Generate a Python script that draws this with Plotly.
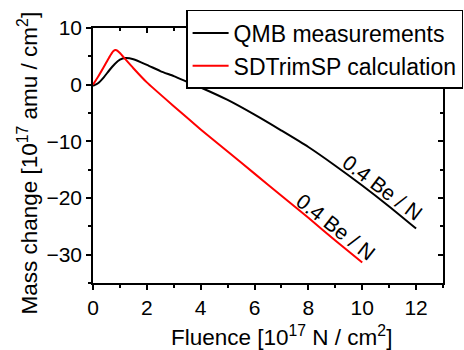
import plotly.graph_objects as go

# QMB measurements (black)
qmb_x = [0, 0.2, 0.4, 0.6, 0.8, 1.0, 1.2, 1.5, 2.0, 2.5, 3.0, 3.5, 4, 5, 6, 7, 8, 9, 10, 11, 12]
qmb_y = [-0.2, 0.3, 1.3, 2.5, 3.6, 4.4, 4.7, 4.5, 3.5, 2.4, 1.5, 0.5, -0.5, -2.7, -5.3, -8.1, -11.0, -14.3, -17.8, -21.5, -25.4]

# SDTrimSP calculation (red)
sdt_x = [0, 0.2, 0.4, 0.6, 0.75, 0.85, 1.0, 1.2, 1.5, 2.0, 3, 4, 5, 6, 7, 8, 9, 10]
sdt_y = [0, 1.5, 3.1, 4.8, 5.9, 6.1, 5.6, 4.5, 2.9, 0.4, -3.8, -7.9, -11.8, -15.7, -19.6, -23.5, -27.5, -31.4]

x_ticks = [0, 2, 4, 6, 8, 10, 12]
y_ticks = [10, 0, -10, -20, -30]
x_range = [0, 13]
y_range = [-35, 10]

FONT = "Liberation Sans, Arial, Helvetica, sans-serif"

fig = go.Figure()
fig.add_trace(go.Scatter(x=qmb_x, y=qmb_y, mode="lines", name="QMB measurements",
                         line=dict(color="#000000", width=2, shape="spline", smoothing=0.6)))
fig.add_trace(go.Scatter(x=sdt_x, y=sdt_y, mode="lines", name="SDTrimSP calculation",
                         line=dict(color="#ff0000", width=2, shape="spline", smoothing=0.5)))
# invisible trace to anchor the mirrored (inside-tick) axes
fig.add_trace(go.Scatter(x=sdt_x, y=sdt_y, mode="lines", xaxis="x2", yaxis="y2",
                         line=dict(width=0), opacity=0, showlegend=False, hoverinfo="skip"))

axis_common = dict(showgrid=False, zeroline=False, linecolor="black", linewidth=1.5,
                   tickcolor="black", tickwidth=1.5)

fig.update_layout(
    width=464, height=350,
    margin=dict(l=93, r=21, t=28, b=67, autoexpand=False),
    paper_bgcolor="white", plot_bgcolor="white",
    font=dict(family=FONT, color="black", size=21),
    xaxis=dict(range=x_range, tickvals=x_ticks, ticks="outside", ticklen=5,
               showline=True, mirror=True, automargin=False,
               minor=dict(dtick=1, ticks="outside", ticklen=3, tickcolor="black", tickwidth=1.5),
               tickfont=dict(size=21, family=FONT), **axis_common),
    yaxis=dict(range=y_range, tickvals=y_ticks, ticks="outside", ticklen=5,
               showline=True, mirror=True, automargin=False,
               minor=dict(dtick=5, tick0=5, ticks="outside", ticklen=3, tickcolor="black", tickwidth=1.5),
               tickfont=dict(size=21, family=FONT), **axis_common),
    xaxis2=dict(range=x_range, overlaying="x", side="top", anchor="y", tickvals=x_ticks,
                ticks="inside", ticklen=5, showticklabels=False, showline=False, automargin=False,
                minor=dict(dtick=1, ticks="inside", ticklen=3, tickcolor="black", tickwidth=1.5),
                showgrid=False, zeroline=False, tickcolor="black", tickwidth=1.5),
    yaxis2=dict(range=y_range, overlaying="y", side="right", anchor="x", tickvals=y_ticks,
                ticks="inside", ticklen=5, showticklabels=False, showline=False, automargin=False,
                minor=dict(dtick=5, tick0=5, ticks="inside", ticklen=3, tickcolor="black", tickwidth=1.5),
                showgrid=False, zeroline=False, tickcolor="black", tickwidth=1.5),
    legend=dict(x=0.266, y=1.0706, xanchor="left", yanchor="top",
                bordercolor="black", borderwidth=1.5, bgcolor="white",
                font=dict(size=23, family=FONT), tracegroupgap=0, itemwidth=36),
    showlegend=True,
)

fig.add_annotation(text="Fluence [10<sup>17</sup> N / cm<sup>2</sup>]", xref="paper", yref="paper",
                   x=0.5386, y=-0.208, xanchor="center", yanchor="middle", showarrow=False,
                   font=dict(size=22.5, family=FONT))
fig.add_annotation(text="Mass change [10<sup>17</sup> amu / cm<sup>2</sup>]", xref="paper", yref="paper",
                   x=-0.187, y=0.4706, xanchor="center", yanchor="middle", showarrow=False,
                   textangle=-90, font=dict(size=22.5, family=FONT))
fig.add_annotation(text="0.4 Be / N", x=10.75, y=-18.1, xref="x", yref="y", showarrow=False,
                   textangle=37, font=dict(size=21, family=FONT))
fig.add_annotation(text="0.4 Be / N", x=9.0, y=-25.1, xref="x", yref="y", showarrow=False,
                   textangle=38, font=dict(size=21, family=FONT))

fig.write_html("out.html", config={"displayModeBar": False},
               post_script="document.body.style.margin='0';document.body.style.padding='0';")
